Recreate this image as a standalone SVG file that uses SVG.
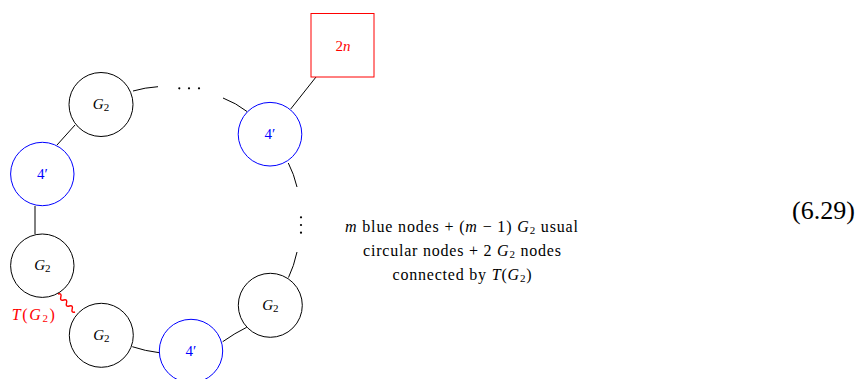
<svg xmlns="http://www.w3.org/2000/svg" width="862" height="379" viewBox="0 0 862 379">
<style>
  text { font-family: "Liberation Serif", "DejaVu Serif", serif; }
  .node { fill: #ffffff; stroke-width: 1; }
  .g2 { stroke: #000000; }
  .blue { stroke: #0000ff; }
  .red { stroke: #ff0000; }
  .lbl { font-size: 15px; text-anchor: middle; }
  .it { font-style: italic; }
  .sub { font-size: 11px; }
  .edge { fill: none; stroke: #000000; stroke-width: 1; }
  .dot { fill: #000000; }
  .note { font-size: 16px; text-anchor: middle; fill: #000000; }
</style>

<g id="connectors">
  <path class="edge" d="M75,125 L57,145"/>
  <path class="edge" d="M133,91 Q145,87.5 158,86.7"/>
  <path class="edge" d="M223,98 Q236,103 247,111.5"/>
  <path class="edge" d="M316,77 L290.7,109"/>
  <path class="edge" d="M288.3,163 Q294,174 297,187"/>
  <path class="edge" d="M297,252 Q294,266 288.5,277.5"/>
  <path class="edge" d="M246.7,327.3 Q235,333 222.7,341.7"/>
  <path class="edge" d="M132.3,346.7 Q145,351 159.3,352.7"/>
  <path class="edge" d="M35,206 L35,234"/>
  <path fill="none" stroke="#ff0000" stroke-width="1.4" stroke-linejoin="round" transform="translate(58,294) rotate(46.6)" d="M0,0 q2.07,-3.6 4.13,0 t4.13,0 t4.13,0 t4.13,0 t4.13,0 t4.13,0"/>
  <text x="33.3" y="320" font-size="16" fill="#ff0000" text-anchor="middle" textLength="43" lengthAdjust="spacing"><tspan class="it">T</tspan>(<tspan class="it">G</tspan><tspan class="sub" dy="2">2</tspan><tspan dy="-2">)</tspan></text>
  <g id="hdots">
    <circle class="dot" cx="179.3" cy="88.3" r="1.1"/>
    <circle class="dot" cx="189" cy="88.3" r="1.1"/>
    <circle class="dot" cx="199" cy="88.3" r="1.1"/>
  </g>
  <g id="vdots">
    <circle class="dot" cx="301" cy="217.3" r="1.1"/>
    <circle class="dot" cx="301" cy="225" r="1.1"/>
    <circle class="dot" cx="301" cy="232.7" r="1.1"/>
  </g>
</g>

<g id="node-2n">
  <rect x="311" y="13.5" width="63" height="63.5" fill="#ffffff" stroke="#ff0000" stroke-width="1"/>
  <text class="lbl" x="343" y="50.5" fill="#ff0000">2<tspan class="it">n</tspan></text>
</g>

<g id="node-g2-top">
  <circle class="node g2" cx="101" cy="104.5" r="32"/>
  <text class="lbl" x="101" y="109" fill="#000000"><tspan class="it">G</tspan><tspan class="sub" dy="2">2</tspan></text>
</g>

<g id="node-4p-left">
  <circle class="node blue" cx="42.3" cy="174" r="31.7"/>
  <text class="lbl" x="42.3" y="179" fill="#0000ff">4′</text>
</g>

<g id="node-4p-top">
  <circle class="node blue" cx="270" cy="134.2" r="31.8"/>
  <text class="lbl" x="270" y="139" fill="#0000ff">4′</text>
</g>

<g id="node-g2-mid">
  <circle class="node g2" cx="42.3" cy="265.7" r="31.7"/>
  <text class="lbl" x="42.3" y="270.2" fill="#000000"><tspan class="it">G</tspan><tspan class="sub" dy="2">2</tspan></text>
</g>

<g id="node-g2-bottom">
  <circle class="node g2" cx="101.3" cy="335.3" r="32"/>
  <text class="lbl" x="101.3" y="339.8" fill="#000000"><tspan class="it">G</tspan><tspan class="sub" dy="2">2</tspan></text>
</g>

<g id="node-4p-bottom">
  <circle class="node blue" cx="191" cy="351" r="31.7"/>
  <text class="lbl" x="191" y="356" fill="#0000ff">4′</text>
</g>

<g id="node-g2-right">
  <circle class="node g2" cx="270.3" cy="305.3" r="32"/>
  <text class="lbl" x="270.3" y="309.8" fill="#000000"><tspan class="it">G</tspan><tspan class="sub" dy="2">2</tspan></text>
</g>

<g id="note">
  <text class="note" x="461.5" y="231.7" textLength="233" lengthAdjust="spacing"><tspan class="it">m</tspan> blue nodes + (<tspan class="it">m</tspan> − 1) <tspan class="it">G</tspan><tspan class="sub" dy="2">2</tspan><tspan dy="-2"> usual</tspan></text>
  <text class="note" x="462" y="255.7" textLength="198" lengthAdjust="spacing">circular nodes + 2 <tspan class="it">G</tspan><tspan class="sub" dy="2">2</tspan><tspan dy="-2"> nodes</tspan></text>
  <text class="note" x="462" y="280" textLength="139" lengthAdjust="spacing">connected by <tspan class="it">T</tspan>(<tspan class="it">G</tspan><tspan class="sub" dy="2">2</tspan><tspan dy="-2">)</tspan></text>
</g>

<text x="792" y="219" font-size="26" fill="#000000">(6.29)</text>
</svg>
